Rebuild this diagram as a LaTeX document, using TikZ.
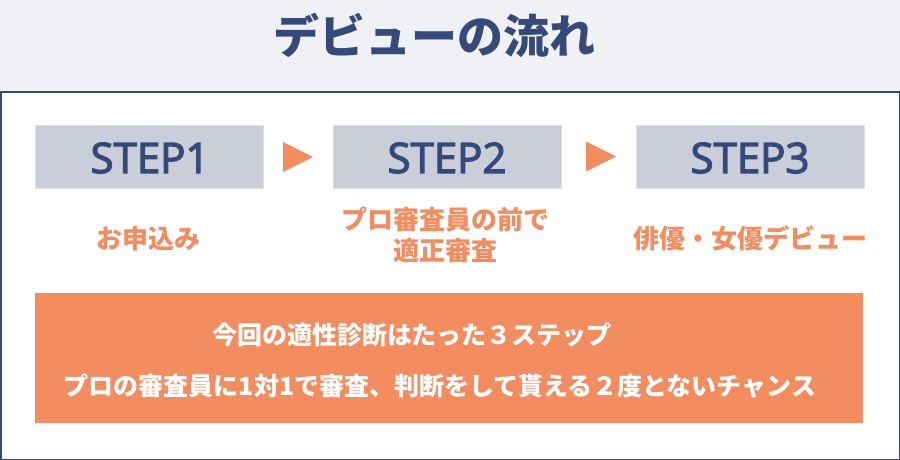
\documentclass[tikz,border=0pt]{standalone}
\usepackage{fontspec}
\newfontfamily\jp{Noto Sans CJK JP}
\newfontfamily\stepfont{Open Sans}[FakeBold=3]
\definecolor{headbg}{HTML}{F0F1F5}
\definecolor{navy}{HTML}{364A79}
\definecolor{stepfill}{HTML}{CACED9}
\definecolor{stepedge}{HTML}{DDE0E8}
\definecolor{orange}{HTML}{F38C5F}
\tikzset{
  stepbox/.style={fill=stepfill, draw=stepedge, line width=1pt},
  steptext/.style={text=navy, inner sep=0pt, anchor=base, font=\stepfont\fontsize{42}{42}\selectfont},
  arrowtri/.style={fill=orange, draw=none},
  olabel/.style={text=orange, inner sep=0pt, align=center, font=\jp\bfseries\fontsize{26}{31}\selectfont},
  wlabel/.style={text=white, inner sep=0pt, font=\jp\bfseries\fontsize{25}{25}\selectfont},
}
\begin{document}
\begin{tikzpicture}[x=1pt,y=-1pt]
\useasboundingbox (0,0) rectangle (900,460);
\fill[headbg] (0,0) rectangle (900,460);
\draw[navy, fill=white, line width=1.5pt] (0.75,92) rectangle (899.25,459.25);
\node[text=navy, inner sep=0pt, font=\jp\bfseries\fontsize{46}{46}\selectfont] (title) at (434,35) {デビューの流れ};
% step boxes
\draw[stepbox] (35,125) rectangle (263,188);
\draw[stepbox] (333,125) rectangle (561,188);
\draw[stepbox] (636,125) rectangle (864,188);
\node[steptext] (s1) at (150,173) {STEP1};
\node[steptext] (s2) at (447,173) {STEP2};
\node[steptext] (s3) at (750,173) {STEP3};
% arrows
\fill[arrowtri] (283,142) -- (313,157) -- (283,172) -- cycle;
\fill[arrowtri] (586,141.5) -- (616,156.5) -- (586,171.5) -- cycle;
% orange labels
\node[olabel] (l1) at (148,238.5) {お申込み};
\node[olabel] (l2) at (445,234.5) {プロ審査員の前で\\適正審査};
\node[olabel] (l3) at (750,238.5) {俳優・女優デビュー};
% orange box
\fill[orange] (35,293) rectangle (863,423);
\node[wlabel] (w1) at (412,335) {今回の適性診断はたった３ステップ};
\node[wlabel] (w2) at (440,386) {プロの審査員に1対1で審査、判断をして貰える２度とないチャンス};
\end{tikzpicture}
\end{document}
